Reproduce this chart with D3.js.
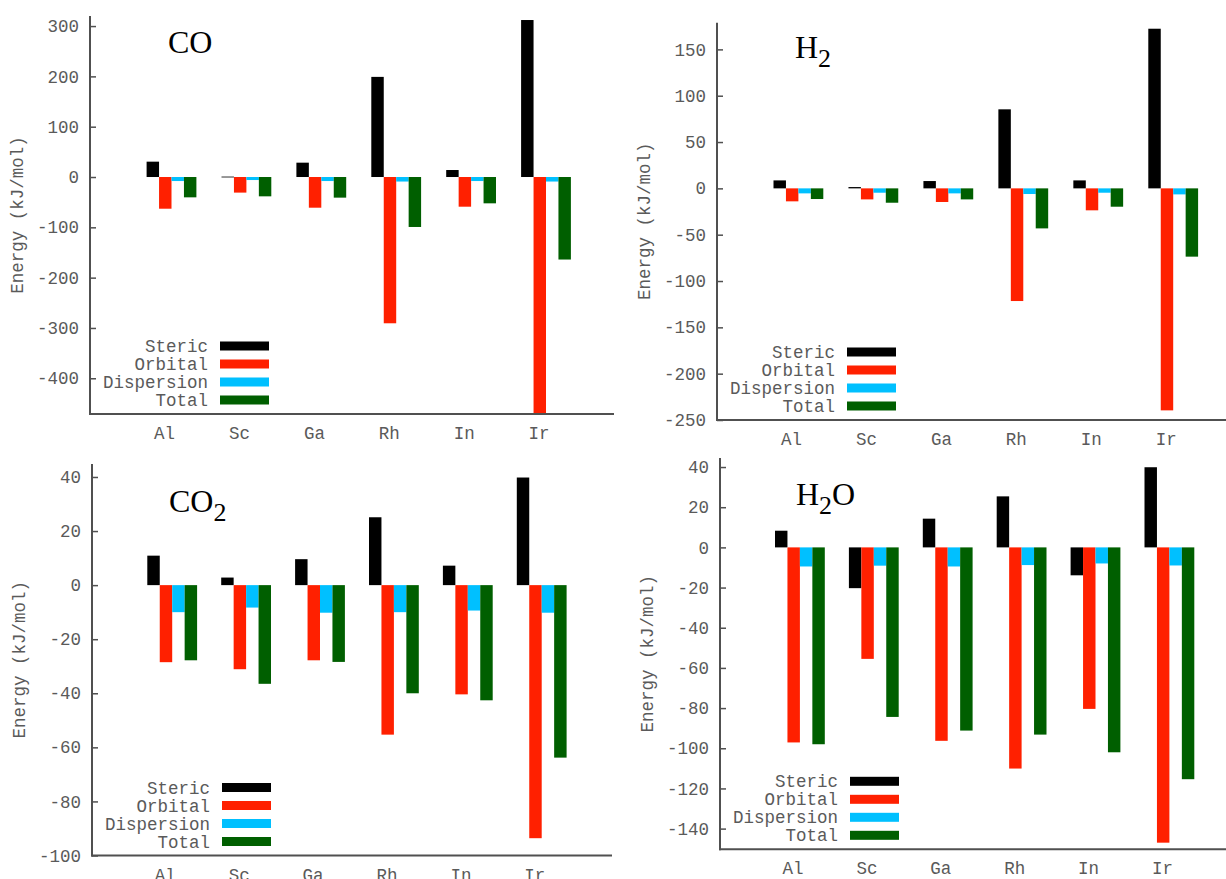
<!DOCTYPE html>
<html>
<head>
<meta charset="utf-8">
<script src="https://cdn.jsdelivr.net/npm/d3@7"></script>
<style>
  body { margin: 0; background: #fff; }
  svg { display: block; }
  .tick-label, .axis-title, .legend-label, .cat-label {
    font-family: "Liberation Mono", "DejaVu Sans Mono", monospace;
    font-size: 17.5px;
    fill: #5a5a5a;
  }
  .panel-title { font-family: "Liberation Serif", "Times New Roman", serif; font-size: 32px; fill: #000; }
</style>
</head>
<body>
<svg id="chart" width="1226" height="879"></svg>
<script>
// categories and series
const metals = ["Al", "Sc", "Ga", "Rh", "In", "Ir"];
const terms = ["Steric", "Orbital", "Dispersion", "Total"];

// CO
const coSteric     = [30.5, 0.8, 28.5, 199, 13.9, 312];
const coOrbital    = [-63, -31, -61, -290.7, -59, -470];
const coDispersion = [-8, -6, -8, -9, -8, -9];
const coTotal      = [-40.4, -38.4, -41, -99.3, -52.3, -164];

// H2
const h2Steric     = [8.6, 1.4, 7.9, 85.3, 8.6, 172.3];
const h2Orbital    = [-14, -11.9, -14.7, -121.6, -23.7, -239.6];
const h2Dispersion = [-5.4, -4.7, -5.4, -6.1, -4.7, -6.5];
const h2Total      = [-11.5, -15.5, -11.9, -43.2, -19.8, -73.7];

// CO2
const co2Steric     = [10.9, 2.8, 9.6, 25.1, 7.2, 39.8];
const co2Orbital    = [-28.5, -31.1, -27.8, -55.3, -40.4, -93.6];
const co2Dispersion = [-10, -8.3, -10.2, -10, -9.4, -10.2];
const co2Total      = [-27.8, -36.5, -28.4, -40, -42.6, -63.8];

// H2O
const h2oSteric     = [8.3, -20.3, 14.3, 25.4, -13.9, 39.9];
const h2oOrbital    = [-97.1, -55.5, -96.3, -110.1, -80.4, -147];
const h2oDispersion = [-9.5, -9.1, -9.5, -8.8, -8, -9];
const h2oTotal      = [-98, -84.4, -91.2, -93.2, -102, -115.4];

// tick values
const coTicks  = [-400, -300, -200, -100, 0, 100, 200, 300];
const h2Ticks  = [-250, -200, -150, -100, -50, 0, 50, 100, 150];
const co2Ticks = [-100, -80, -60, -40, -20, 0, 20, 40];
const h2oTicks = [-140, -120, -100, -80, -60, -40, -20, 0, 20, 40];

const colors = ["#000000", "#ff2000", "#00c0ff", "#005f00"];

let svg = d3.select("#chart");

let panels = [
  { title: ["CO", "", ""], series: [coSteric, coOrbital, coDispersion, coTotal], ticks: coTicks,
    domain: [-471, 320], axisX: 90, top: 16, bottom: 414, xEnd: 614, g0: 146.6, step: 74.9, tx: 168, ty: 53 },
  { title: ["H", "2", ""], series: [h2Steric, h2Orbital, h2Dispersion, h2Total], ticks: h2Ticks,
    domain: [-250, 178.8], axisX: 717, top: 22.7, bottom: 420, xEnd: 1226, g0: 773.5, step: 74.96, tx: 795, ty: 58 },
  { title: ["CO", "2", ""], series: [co2Steric, co2Orbital, co2Dispersion, co2Total], ticks: co2Ticks,
    domain: [-100, 44.8], axisX: 92, top: 464, bottom: 855.5, xEnd: 612, g0: 147.3, step: 73.9, tx: 169, ty: 512 },
  { title: ["H", "2", "O"], series: [h2oSteric, h2oOrbital, h2oDispersion, h2oTotal], ticks: h2oTicks,
    domain: [-150.3, 44.5], axisX: 720, top: 458, bottom: 849.3, xEnd: 1226, g0: 775, step: 73.9, tx: 796, ty: 505 }
];

let drawPanel = (p) => {
  let g = svg.append("g");
  let barW = 12.45;
  let pad = 1 - 4 * barW / p.step;

  let x = d3.scaleBand()
    .domain(metals)
    .range([p.g0, p.g0 + p.step * (metals.length - pad)])
    .paddingInner(pad)
    .paddingOuter(0);

  let xs = d3.scaleBand().domain(terms).range([0, x.bandwidth()]);

  let y = d3.scaleLinear().domain(p.domain).range([p.bottom, p.top]);

  // bars
  terms.forEach((t, ti) => {
    g.append("g").selectAll("rect")
      .data(p.series[ti])
      .enter()
      .append("rect")
        .attr("x", (d, i) => x(metals[i]) + xs(t))
        .attr("width", xs.bandwidth())
        .attr("y", d => y(Math.max(0, d)))
        .attr("height", d => Math.max(0.8, Math.abs(y(d) - y(0))))
        .attr("fill", colors[ti]);
  });

  // y axis ticks (inward)
  let yAxis = d3.axisRight(y).tickValues(p.ticks).tickSize(6).tickFormat("");
  let ya = g.append("g").attr("transform", `translate(${p.axisX},0)`).call(yAxis);
  ya.select(".domain").remove();
  ya.selectAll("line").attr("stroke", "#505050").attr("stroke-width", 1.5);

  g.selectAll("text.tick-label")
    .data(p.ticks)
    .enter()
    .append("text")
      .attr("class", "tick-label")
      .attr("x", p.axisX - 11)
      .attr("y", d => y(d))
      .attr("dy", "0.35em")
      .attr("text-anchor", "end")
      .text(d => d);

  g.append("line")
    .attr("x1", p.axisX).attr("x2", p.axisX)
    .attr("y1", p.top).attr("y2", p.bottom + 1)
    .attr("stroke", "#505050").attr("stroke-width", 2);
  g.append("line")
    .attr("x1", p.axisX - 1).attr("x2", p.xEnd)
    .attr("y1", p.bottom).attr("y2", p.bottom)
    .attr("stroke", "#505050").attr("stroke-width", 2);

  // category labels
  g.selectAll("text.cat-label")
    .data(metals)
    .enter()
    .append("text")
      .attr("class", "cat-label")
      .attr("x", d => x(d) + 18)
      .attr("y", p.bottom + 25)
      .attr("text-anchor", "middle")
      .text(d => d);

  // y axis title
  g.append("text")
    .attr("class", "axis-title")
    .attr("transform", `translate(${p.axisX - 67},${(p.top + p.bottom) / 2}) rotate(-90)`)
    .attr("text-anchor", "middle")
    .text("Energy (kJ/mol)");

  // legend
  terms.forEach((t, ti) => {
    let ly = p.bottom - 14 - 18 * (terms.length - 1 - ti);
    g.append("text")
      .attr("class", "legend-label")
      .attr("x", p.axisX + 118)
      .attr("y", ly)
      .attr("dy", "0.35em")
      .attr("text-anchor", "end")
      .text(t);
    g.append("rect")
      .attr("x", p.axisX + 130)
      .attr("y", ly - 4.5)
      .attr("width", 49)
      .attr("height", 9)
      .attr("fill", colors[ti]);
  });

  // title
  let tt = g.append("text").attr("class", "panel-title").attr("x", p.tx).attr("y", p.ty);
  tt.append("tspan").text(p.title[0]);
  if (p.title[1]) tt.append("tspan").attr("dy", 9).attr("font-size", 26).text(p.title[1]);
  if (p.title[2]) tt.append("tspan").attr("dy", -9).text(p.title[2]);
};

panels.forEach(drawPanel);
</script>
</body>
</html>
